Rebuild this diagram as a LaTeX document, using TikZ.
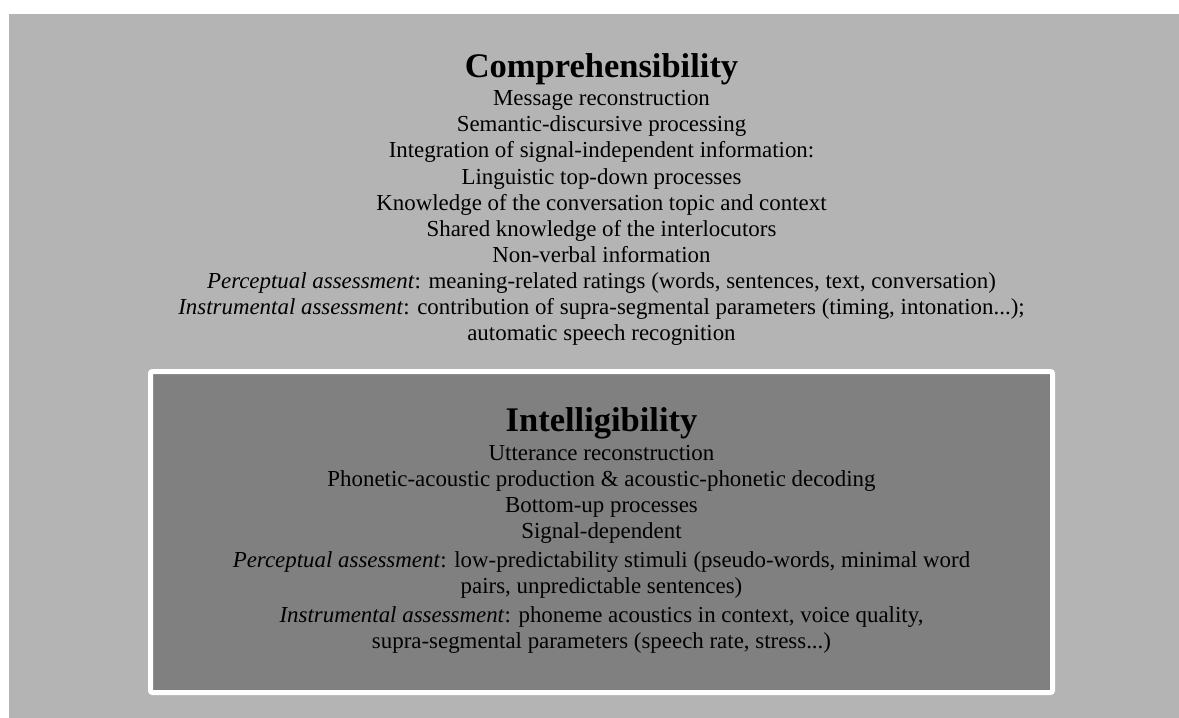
\documentclass[tikz,border=0pt]{standalone}
\usepackage{fontspec}
\setmainfont{Liberation Serif}
\usetikzlibrary{positioning}
\definecolor{outergray}{RGB}{180,180,180}
\definecolor{innergray}{RGB}{128,128,128}
\tikzset{
titlenode/.style={font=\fontsize{34.5}{40}\selectfont\bfseries, inner sep=0pt, anchor=base},
textnode/.style={font=\fontsize{22.9}{26.1}\selectfont, align=center, inner sep=0pt},
boxnode/.style={rectangle, draw=white, fill=innergray, line width=5pt, rounded corners=2pt, minimum width=902pt, minimum height=321pt}
}

\begin{document}
\begin{tikzpicture}[x=1pt,y=1pt]
%Background
\useasboundingbox[fill=white] (0,0) rectangle (1179,-718);
\fill[outergray] (9,-14) rectangle (1179,-718);

%Nodes
\node[boxnode] (intelBox) at (601.5,-532) {};
\node[titlenode] (compTitle) at (601.5,-77) {Comprehensibility};
% base of the text node is its last line
\node[textnode, below=263.6pt of compTitle.base, anchor=base] (compText) {Message reconstruction\\
Semantic-discursive processing\\
Integration of signal-independent information:\\
Linguistic top-down processes\\
Knowledge of the conversation topic and context\\
Shared knowledge of the interlocutors\\
Non-verbal information\\
\textit{Perceptual assessment}: meaning-related ratings (words, sentences, text, conversation)\\
\textit{Instrumental assessment}: contribution of supra-segmental parameters (timing, intonation...);\\
automatic speech recognition};
\node[titlenode] (intelTitle) at (601.5,-431.7) {Intelligibility};
\node[textnode, below=216.4pt of intelTitle.base, anchor=base] (intelText) {Utterance reconstruction\\
Phonetic-acoustic production \& acoustic-phonetic decoding\\
Bottom-up processes\\
Signal-dependent\\[2.6pt]
\textit{Perceptual assessment}: low-predictability stimuli (pseudo-words, minimal word\\
pairs, unpredictable sentences)\\[2.8pt]
\textit{Instrumental assessment}: phoneme acoustics in context, voice quality,\\
supra-segmental parameters (speech rate, stress...)};
\end{tikzpicture}
\end{document}
